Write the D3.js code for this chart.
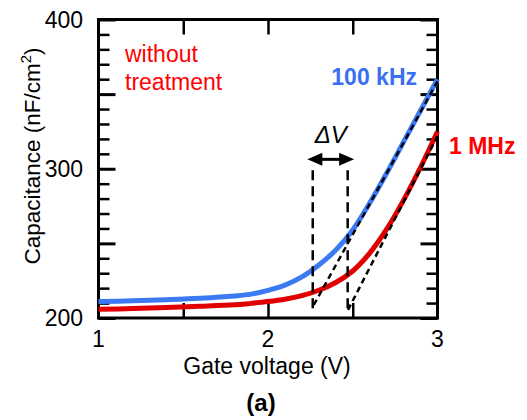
<!DOCTYPE html>
<html>
<head>
<meta charset="utf-8">
<script src="https://cdn.jsdelivr.net/npm/d3@7"></script>
<style>
  body { margin: 0; background: #fff; }
  text { font-family: "Liberation Sans", Arial, sans-serif; }
</style>
</head>
<body>
<script>
// Datos (C-V, sin tratamiento)
const voltage = [1.0, 1.2, 1.4, 1.6, 1.8, 1.9, 2.0, 2.1, 2.2, 2.3, 2.4, 2.5, 2.6, 2.7, 2.8, 2.9, 3.0];
const cap100k = [211, 211.5, 212.3, 213.3, 214.8, 216, 218.5, 222, 227.5, 235.5, 245.5, 259, 277, 297, 318, 339, 360];
const cap1M = [205.8, 206.3, 207, 207.8, 208.8, 209.8, 211, 212.6, 215, 218.6, 223.8, 231.5, 243.5, 259.5, 279, 301, 325];

// Rectas tangentes (extrapolación lineal) [V, C]
const tangent100k = [[2.27, 208.7], [3, 358.6]];
const tangent1M = [[2.472, 205.4], [3, 321.9]];
// Líneas verticales del umbral y flecha de ΔV
const thresholdV = [2.264, 2.47];
const thresholdC = [206.5, 301.5];
const arrowV = [2.232, 2.508];
const arrowC = 306.3;

const xTicks = [1, 1.5, 2, 2.5, 3];
const xLabels = [1, 2, 3];
const yMajor = [200, 250, 300, 350, 400];
const yMinor = d3.range(210, 400, 10).filter(v => v % 50 !== 0);
const yLabels = [200, 300, 400];

const width = 527;
const height = 420;

const svg = d3.select("body").append("svg")
  .attr("width", width)
  .attr("height", height);

const x = d3.scaleLinear().domain([1, 3]).range([98.5, 437.5]);
const y = d3.scaleLinear().domain([200, 400]).range([318, 19.5]);

// Ejes con marcas hacia dentro
function yAxis(gen, values, size, sw, xpos) {
  svg.append("g")
    .attr("transform", `translate(${xpos},0)`)
    .call(gen(y).tickValues(values).tickSize(size).tickFormat(""))
    .call(g => g.select(".domain").remove())
    .call(g => g.selectAll("line").attr("stroke-width", sw));
}
yAxis(d3.axisLeft, yMajor, -17, 3, x(1));
yAxis(d3.axisLeft, yMinor, -11, 2.5, x(1));
yAxis(d3.axisRight, yMajor, -17, 3, x(3));
yAxis(d3.axisRight, yMinor, -11, 2.5, x(3));

function xAxis(gen, ypos) {
  svg.append("g")
    .attr("transform", `translate(0,${ypos})`)
    .call(gen(x).tickValues(xTicks.slice(1, -1)).tickSize(-15).tickFormat(""))
    .call(g => g.select(".domain").remove())
    .call(g => g.selectAll("line").attr("stroke-width", 2.5));
}
xAxis(d3.axisBottom, y(200));
xAxis(d3.axisTop, y(400));

// Marco
svg.append("rect")
  .attr("x", x(1)).attr("y", y(400))
  .attr("width", x(3) - x(1)).attr("height", y(200) - y(400))
  .attr("fill", "none").attr("stroke", "#000").attr("stroke-width", 3);

// Etiquetas de las marcas
svg.selectAll(".ylab").data(yLabels).enter().append("text")
  .attr("x", 83).attr("y", d => y(d) + 8)
  .attr("text-anchor", "end").attr("font-size", 23)
  .text(d => d);
svg.selectAll(".xlab").data(xLabels).enter().append("text")
  .attr("x", d => x(d)).attr("y", 347)
  .attr("text-anchor", "middle").attr("font-size", 23)
  .text(d => d);

// Títulos de ejes
svg.append("text")
  .attr("x", 267).attr("y", 374)
  .attr("text-anchor", "middle").attr("font-size", 23)
  .text("Gate voltage (V)");
const yt = svg.append("text")
  .attr("transform", "translate(40,156) rotate(-90)")
  .attr("text-anchor", "middle").attr("font-size", 22.5);
yt.append("tspan").text("Capacitance (nF/cm");
yt.append("tspan").attr("font-size", 15).attr("dy", -9).text("2");
yt.append("tspan").attr("dy", 9).text(")");

svg.append("text")
  .attr("x", 261).attr("y", 411)
  .attr("text-anchor", "middle").attr("font-size", 24).attr("font-weight", "bold")
  .text("(a)");

// Curvas
const line = d3.line()
  .x(d => x(d[0])).y(d => y(d[1]))
  .curve(d3.curveCatmullRom.alpha(0.5));

svg.append("path")
  .datum(voltage.map((v, i) => [v, cap100k[i]]))
  .attr("d", line).attr("fill", "none")
  .attr("stroke", "#3b7af2").attr("stroke-width", 5);
svg.append("path")
  .datum(voltage.map((v, i) => [v, cap1M[i]]))
  .attr("d", line).attr("fill", "none")
  .attr("stroke", "#e00000").attr("stroke-width", 5);

// Tangentes discontinuas
const straight = d3.line().x(d => x(d[0])).y(d => y(d[1]));
[tangent100k, tangent1M].forEach(t => {
  svg.append("path").attr("d", straight(t))
    .attr("fill", "none").attr("stroke", "#000")
    .attr("stroke-width", 2.5).attr("stroke-dasharray", "6,4");
});
thresholdV.forEach(v => {
  svg.append("line")
    .attr("x1", x(v)).attr("x2", x(v))
    .attr("y1", y(thresholdC[0])).attr("y2", y(thresholdC[1]))
    .attr("stroke", "#000").attr("stroke-width", 2.5)
    .attr("stroke-dasharray", "10,6");
});

// Flecha ΔV
const ax0 = x(arrowV[0]), ax1 = x(arrowV[1]), ay = y(arrowC);
svg.append("line")
  .attr("x1", ax0 + 8).attr("x2", ax1 - 8)
  .attr("y1", ay).attr("y2", ay)
  .attr("stroke", "#000").attr("stroke-width", 3);
svg.append("path")
  .attr("d", `M${ax0},${ay}L${ax0 + 15},${ay - 6.5}L${ax0 + 15},${ay + 6.5}Z`)
  .attr("fill", "#000");
svg.append("path")
  .attr("d", `M${ax1},${ay}L${ax1 - 15},${ay - 6.5}L${ax1 - 15},${ay + 6.5}Z`)
  .attr("fill", "#000");
svg.append("text")
  .attr("x", (ax0 + ax1) / 2).attr("y", 143)
  .attr("text-anchor", "middle").attr("font-size", 24).attr("font-style", "italic")
  .text("ΔV");

// Leyendas en la figura
svg.append("text")
  .attr("x", 417).attr("y", 85)
  .attr("text-anchor", "end").attr("font-size", 23).attr("font-weight", "bold")
  .attr("fill", "#3a6ff0")
  .text("100 kHz");
svg.append("text")
  .attr("x", 449).attr("y", 154)
  .attr("font-size", 23).attr("font-weight", "bold")
  .attr("fill", "#ff0000")
  .text("1 MHz");
svg.append("text")
  .attr("x", 125).attr("y", 62)
  .attr("font-size", 23).attr("fill", "#ff0000")
  .text("without");
svg.append("text")
  .attr("x", 125).attr("y", 90)
  .attr("font-size", 23).attr("fill", "#ff0000")
  .text("treatment");
</script>
</body>
</html>
